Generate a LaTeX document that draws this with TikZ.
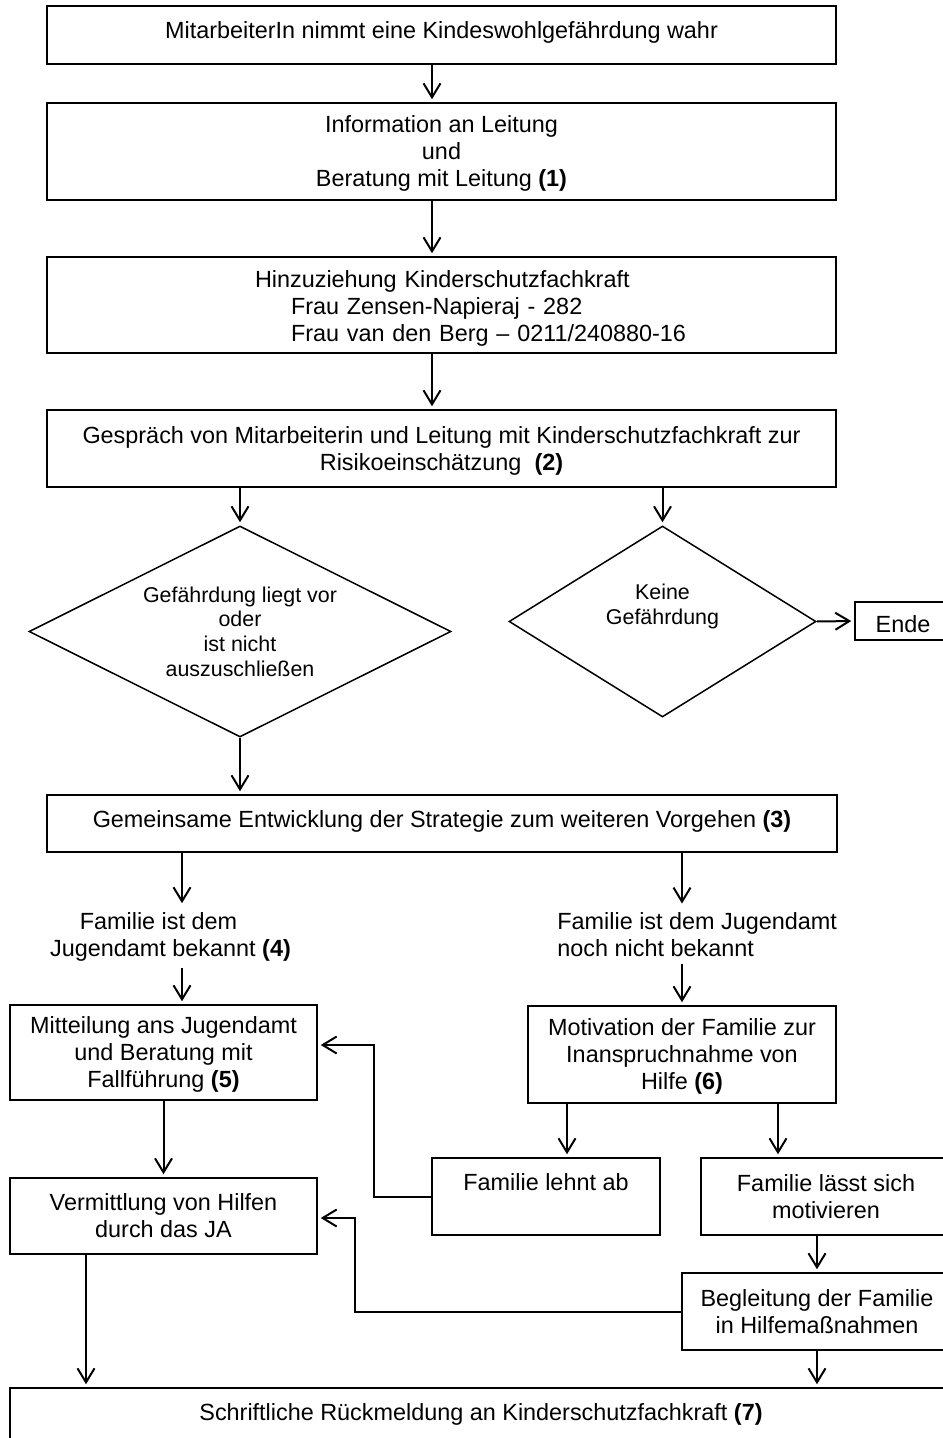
\documentclass[tikz,border=0pt]{standalone}
\usepackage{fontspec}
\setmainfont{Liberation Sans}
\usetikzlibrary{arrows.meta, shapes.geometric}

\begin{document}
\begin{tikzpicture}[
  x=0.5pt, y=-0.5pt,
  box/.style={draw, line width=0.75pt, align=center, inner sep=0pt,
              font=\fontsize{11.7}{13.5}\selectfont},
  line/.style={box, text height=11.5pt},
  dia/.style={draw, diamond, aspect=2, line width=0.75pt, align=center,
              inner sep=0pt, font=\fontsize{10.7}{12.3}\selectfont},
  txt/.style={align=center, inner sep=3pt, font=\fontsize{11.7}{13.5}\selectfont},
  arr/.style={-{Straight Barb[length=7pt, width=8.5pt]}, line width=1pt,
              shorten >=1.5pt}
]
  \useasboundingbox (0,0) rectangle (942,1438);

  % main column
  \node[line, minimum width=394.5pt, minimum height=29pt, text depth=7.5pt]
    (mitarb) at (441.5,35) {MitarbeiterIn nimmt eine Kindeswohlgefährdung wahr};
  \node[box, minimum width=394.5pt, minimum height=48.5pt, text depth=0pt]
    (info) at (441.5,151.5) {Information an Leitung\\und\\Beratung mit Leitung \textbf{(1)}};
  \node[box, align=left, text width=394.5pt, minimum height=48pt]
    (hinzu) at (441.5,305) {\hspace*{104pt}\rule{0pt}{11.5pt}Hinzuziehung Kinderschutzfachkraft\\
      \hspace*{122pt}Frau Zensen-Napieraj - 282\\
      \hspace*{122pt}Frau van den Berg – 0211/240880-16};
  \node[box, minimum width=394.5pt, minimum height=38.5pt, text depth=0pt]
    (gespr) at (441.5,448.5) {Gespräch von Mitarbeiterin und Leitung mit Kinderschutzfachkraft zur\\
      Risikoeinschätzung~ \textbf{(2)}};

  % decision
  \node[dia, minimum width=211pt, minimum height=105.5pt]
    (dia1) at (240,631.5) {Gefährdung liegt vor\\oder\\ist nicht\\auszuschließen};
  \node[dia, minimum width=153.5pt, minimum height=95.5pt, text depth=17.3pt]
    (dia2) at (662.5,621.5) {Keine\\Gefährdung};
  \node[line, minimum width=48pt, minimum height=19pt] (ende) at (903,621) {Ende};

  \node[line, minimum width=395pt, minimum height=28.5pt, text depth=8pt]
    (strat) at (442,823.5) {Gemeinsame Entwicklung der Strategie zum weiteren Vorgehen \textbf{(3)}};

  % two branches
  \node[txt] (famja) at (170.5,937) {Familie ist dem\hspace*{12pt}\\Jugendamt bekannt \textbf{(4)}};
  \node[txt, align=left, anchor=west] (famnot) at (551,935)
    {Familie ist dem Jugendamt\\noch nicht bekannt};

  \node[box, minimum width=153.5pt, minimum height=47.5pt, text depth=0pt]
    (mitteil) at (163.5,1052.5) {Mitteilung ans Jugendamt\\und Beratung mit\\Fallführung \textbf{(5)}};
  \node[box, minimum width=154pt, minimum height=48.5pt, text depth=0pt]
    (motiv) at (682,1054.5) {Motivation der Familie zur\\Inanspruchnahme von\\Hilfe \textbf{(6)}};
  \node[line, minimum width=114pt, minimum height=38.5pt, text depth=18pt]
    (lehnt) at (546,1196.5) {Familie lehnt ab};
  \node[box, minimum width=125pt, minimum height=38.5pt]
    (laesst) at (826,1196.5) {Familie lässt sich\\motivieren};
  \node[box, minimum width=153.5pt, minimum height=38pt]
    (verm) at (163.5,1216) {Vermittlung von Hilfen\\durch das JA};
  \node[box, minimum width=135pt, minimum height=38.5pt]
    (begl) at (817,1311.5) {Begleitung der Familie\\in Hilfemaßnahmen};
  \node[line, minimum width=471pt, minimum height=29pt, text depth=8.5pt]
    (rueck) at (481,1417) {Schriftliche Rückmeldung an Kinderschutzfachkraft \textbf{(7)}};

  % connectors
  \draw[arr] (mitarb.south -| 432,0) -- (info.north -| 432,0);
  \draw[arr] (info.south -| 432,0)   -- (hinzu.north -| 432,0);
  \draw[arr] (hinzu.south -| 432,0)  -- (gespr.north -| 432,0);
  \draw[arr] (gespr.south -| dia1.north) -- (dia1.north);
  \draw[arr] (gespr.south -| dia2.north) -- (dia2.north);
  \draw[arr] (dia2.east) -- (ende.west);
  \draw[arr] (dia1.south) -- (strat.north -| dia1.south);
  \draw[arr] (strat.south -| 182,0) -- (famja.north -| 182,0);
  \draw[arr] (strat.south -| 682,0) -- (famnot.north -| 682,0);
  \draw[arr] (famja.south -| 182,0) -- (mitteil.north -| 182,0);
  \draw[arr] (famnot.south -| 682,0) -- (motiv.north);
  \draw[arr] (motiv.south -| 567,0) -- (lehnt.north -| 567,0);
  \draw[arr] (motiv.south -| 778,0) -- (laesst.north -| 778,0);
  \draw[arr] (lehnt.west) -| (374,1045) -- (mitteil.east |- 0,1045);
  \draw[arr] (mitteil.south) -- (verm.north);
  \draw[arr] (laesst.south -| 817,0) -- (begl.north);
  \draw[arr] (begl.west) -| (355,1218) -- (verm.east |- 0,1218);
  \draw[arr] (verm.south -| 86,0) -- (rueck.north -| 86,0);
  \draw[arr] (begl.south) -- (rueck.north -| begl.south);
\end{tikzpicture}
\end{document}
